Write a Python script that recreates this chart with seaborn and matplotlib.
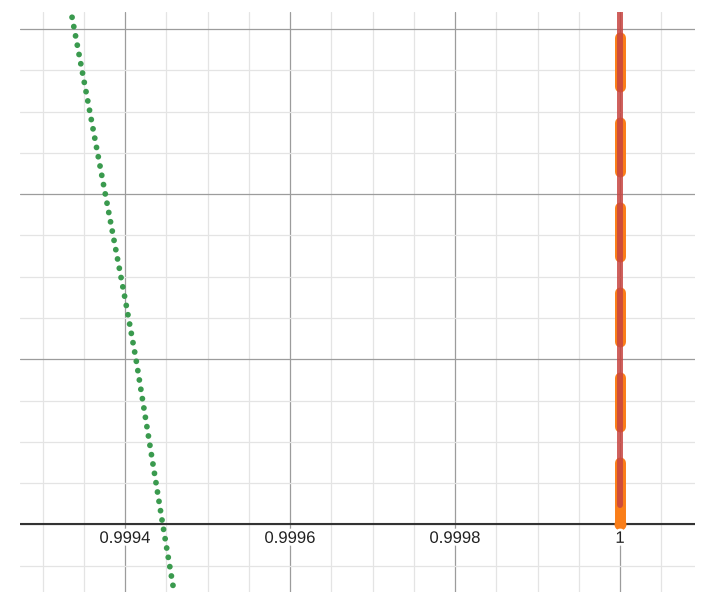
import numpy as np
import pandas as pd
import seaborn as sns
import matplotlib.pyplot as plt
from matplotlib.ticker import MultipleLocator
from matplotlib.transforms import offset_copy
import matplotlib.patheffects as pe

# data
green_x = [0.9993358, 0.9993761, 0.9994000, 0.9994133, 0.9994457, 0.9994590]
green_y = [0.0006142, 0.0004000, 0.0002736, 0.0002000, 0.0000000, -0.0000792]
orange_x = [1.0, 1.0]
orange_y = [0.0, 0.00064]
red_x = [1.0, 1.0]
red_y = [0.000023, 0.00070]
tick_pos = [0.9994, 0.9996, 0.9998, 1.0]
tick_labels = ["0.9994", "0.9996", "0.9998", "1"]

sns.set_theme(style="white")
plt.rcParams['font.family'] = ['Liberation Sans', 'DejaVu Sans']
plt.rcParams['lines.scale_dashes'] = False

fig = plt.figure(figsize=(7.09, 6.05), dpi=100)
ax = fig.add_axes([20 / 709, (605 - 591.7) / 605, 675 / 709, (591.7 - 12) / 605])

# grid like a graphing calculator
ax.set_xlim(0.9992727, 1.0000909)
ax.set_ylim(-0.0000816, 0.0006206)
ax.xaxis.set_major_locator(MultipleLocator(0.0002))
ax.xaxis.set_minor_locator(MultipleLocator(0.00005))
ax.yaxis.set_major_locator(MultipleLocator(0.0002))
ax.yaxis.set_minor_locator(MultipleLocator(0.00005))
ax.grid(which='major', color='#9c9c9c', lw=0.9)
ax.grid(which='minor', color='#e4e4e4', lw=0.9)
ax.set_axisbelow(True)
ax.tick_params(which='both', length=0, labelbottom=False, labelleft=False)
for s in ax.spines.values():
    s.set_visible(False)
ax.axhline(0, color='#333333', lw=1.5, zorder=2)

df_g = pd.DataFrame({"x": green_x, "y": green_y})
sns.lineplot(data=df_g, x="x", y="y", sort=False, estimator=None, ax=ax,
             color='#3a9a4e', lw=4.2, zorder=3)
ln = ax.lines[-1]
ln.set_linestyle((0, (0.01, 6.8)))
ln.set_dash_capstyle('round')

df_o = pd.DataFrame({"x": orange_x, "y": orange_y})
sns.lineplot(data=df_o, x="x", y="y", sort=False, estimator=None, ax=ax,
             color='#fa7e19', lw=7.9, zorder=4)
ln = ax.lines[-1]
ln.set_linestyle((0, (44.3, 25.9, 35.3, 25.9, 35.3, 25.9, 35.3, 25.9,
                      35.3, 25.9, 35.3, 25.9, 35.3, 200)))
ln.set_dash_capstyle('round')
ax.plot(orange_x[:1], orange_y[:1], 'o', color='#fa7e19', ms=8.6, mew=0, zorder=4)

df_r = pd.DataFrame({"x": red_x, "y": red_y})
sns.lineplot(data=df_r, x="x", y="y", sort=False, estimator=None, ax=ax,
             color='#c74440', lw=4.3, alpha=0.85, zorder=5)
ax.lines[-1].set_solid_capstyle('round')

ax.set_xlabel("")
ax.set_ylabel("")

trans = offset_copy(ax.get_xaxis_transform(), fig=fig, x=0, y=-10.1, units='points')
for p, lab in zip(tick_pos, tick_labels):
    ax.text(p, (0 - ax.get_ylim()[0]) / (ax.get_ylim()[1] - ax.get_ylim()[0]), lab,
            transform=trans, ha='center', va='center', fontsize=12, color='#222222',
            zorder=6, path_effects=[pe.withStroke(linewidth=4, foreground='white')])

fig.savefig("out.png", dpi=100)
